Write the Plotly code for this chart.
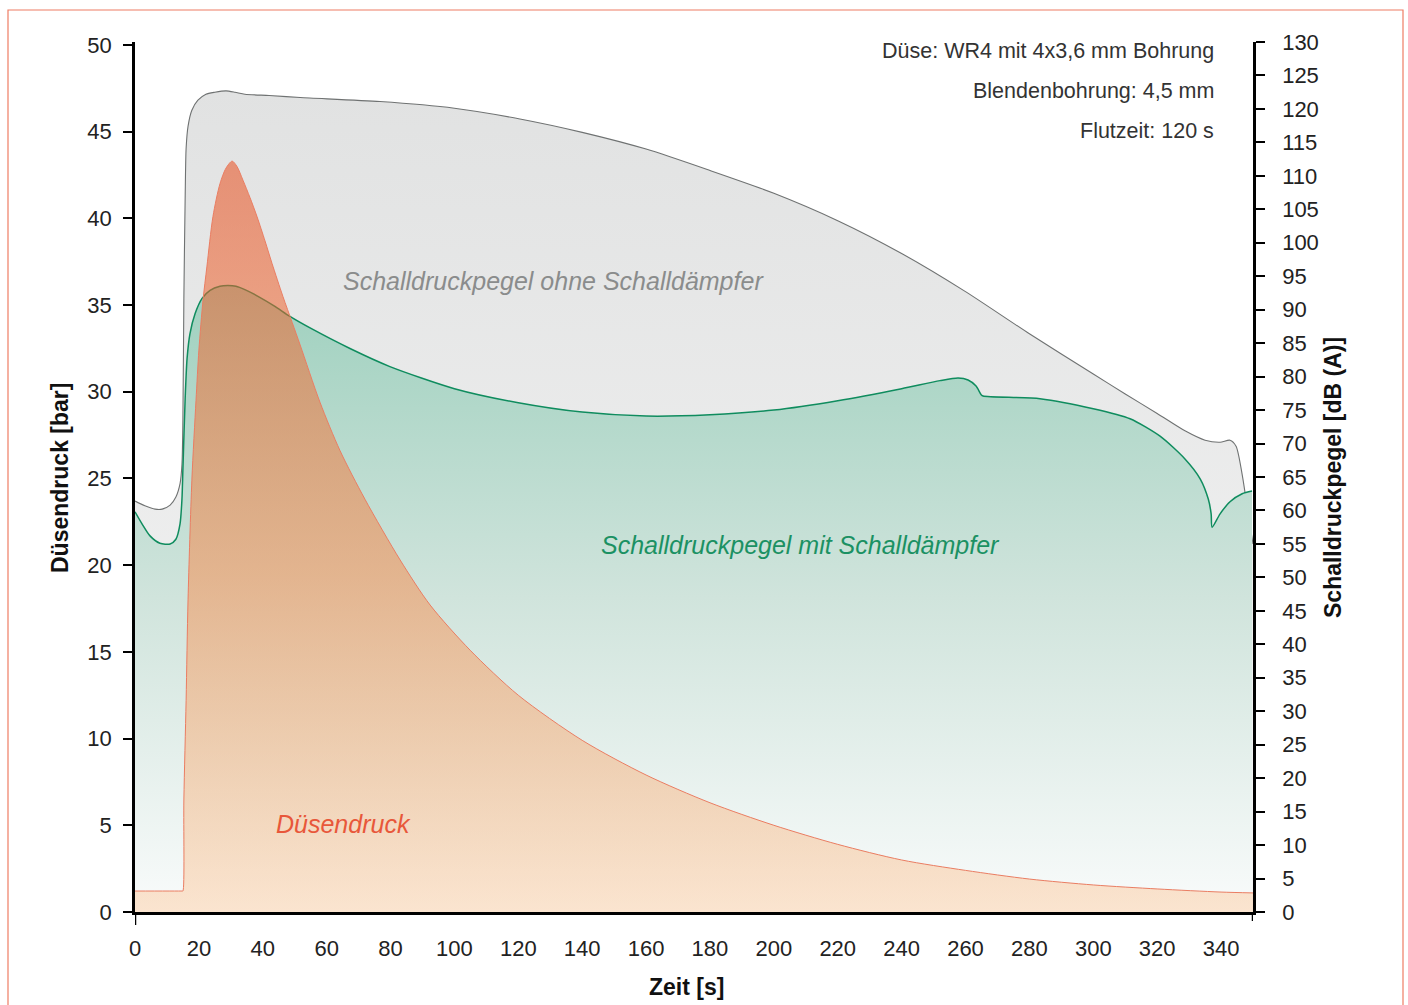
import plotly.graph_objects as go

# ---------------- data ----------------
# Schalldruckpegel ohne Schalldämpfer (dB(A))
t_ohne = [0, 3.1, 6.3, 8.5, 11, 12.8, 14.1, 14.7, 15.0, 15.3, 15.7, 16.0, 16.6, 17.8, 19.7, 22.2, 25, 28.5,
          31.3, 34.4, 42, 51.7, 76.7, 100, 120.5, 140, 160, 180, 200, 220, 240, 260, 280, 300, 310, 320,
          328.7, 335, 339.7, 342.8, 344.7, 346.6, 348.5, 350]
db_ohne = [61.4, 60.7, 60.2, 60.2, 60.8, 62.0, 64.0, 66.9, 73.7, 91.7, 106.6, 114.1, 117.4, 119.8, 121.3,
           122.2, 122.5, 122.7, 122.5, 122.2, 122.0, 121.7, 121.1, 120.1, 118.5, 116.5, 114.0, 110.8, 107.4,
           103.3, 98.4, 92.7, 86.4, 80.4, 77.4, 74.5, 71.9, 70.5, 70.2, 70.5, 69.6, 65.4, 59.5, 55.0]

# Schalldruckpegel mit Schalldämpfer (dB(A))
t_mit = [0, 2.2, 4.7, 7.8, 11.0, 12.8, 14.1, 14.7, 15.0, 15.7, 16.3, 17.2, 18.8, 21.0, 23.5, 26.6, 29.1,
         31.6, 34.4, 38.5, 43.8, 48.5, 55.1, 67.3, 79.8, 100, 120, 140, 160, 180, 200, 220, 240, 252,
         257.7, 260.8, 263.3, 264.9, 265.5, 283.3, 300, 311.5, 320.9, 328.7, 333.5, 336, 336.9, 337.2,
         339.7, 342.8, 346.6, 349.7]
db_mit = [59.8, 58.0, 56.2, 55.1, 55.0, 55.7, 58.0, 61.7, 66.2, 76.7, 82.7, 86.4, 89.4, 91.7, 92.9, 93.5,
          93.6, 93.5, 93.0, 92.0, 90.5, 89.0, 87.2, 84.2, 81.5, 78.2, 76.1, 74.7, 74.1, 74.3, 75.0, 76.4,
          78.2, 79.4, 79.8, 79.5, 78.6, 77.3, 77.1, 76.7, 75.2, 73.7, 71.1, 67.7, 64.7, 61.7, 59.5, 57.5,
          59.5, 61.3, 62.5, 62.9]

# Düsendruck (bar)
t_druck = [0, 14.8, 15.0, 15.3, 16.0, 16.6, 17.8, 19.1, 20.0, 21.3, 22.5, 24.4, 26.6, 28.5, 30.4, 31.9,
           33.8, 36.0, 38.2, 40.7, 42.9, 46.3, 49.2, 51.7, 57.9, 64.2, 72.0, 83.0, 92.4, 104.9, 120, 140,
           160, 180, 200, 220, 240, 260, 280, 300, 320, 340, 350]
p_druck = [1.21, 1.21, 1.21, 6.46, 12.2, 18.0, 24.9, 29.5, 32.4, 35.3, 37.2, 40.1, 42.0, 42.9, 43.3, 43.0,
           42.2, 41.2, 40.1, 38.7, 37.4, 35.5, 34.0, 32.7, 29.4, 26.6, 23.8, 20.3, 17.7, 15.1, 12.5, 9.9,
           7.9, 6.3, 5.0, 3.9, 3.0, 2.4, 1.9, 1.56, 1.33, 1.15, 1.1]

x_ticks = list(range(0, 341, 20))
left_ticks = list(range(0, 51, 5))
right_ticks = list(range(0, 131, 5))

FONT = "Liberation Sans, Arial, sans-serif"
SMOOTH = 0.7

fig = go.Figure()

# gray: ohne Schalldämpfer (main y axis, dB, drawn on right side)
fig.add_trace(go.Scatter(
    x=t_ohne, y=db_ohne, mode="lines", yaxis="y",
    line=dict(color="#6f7272", width=1.1, shape="spline", smoothing=SMOOTH),
    fill="tozeroy",
    fillgradient=dict(type="vertical", start=0, stop=123,
                      colorscale=[[0, "rgb(246,246,246)"], [1, "rgb(225,226,226)"]]),
    showlegend=False, hoverinfo="skip"))

# green: mit Schalldämpfer
fig.add_trace(go.Scatter(
    x=t_mit, y=db_mit, mode="lines", yaxis="y",
    line=dict(color="#0f8c5e", width=1.5, shape="spline", smoothing=SMOOTH),
    fill="tozeroy",
    fillgradient=dict(type="vertical", start=0, stop=94,
                      colorscale=[[0, "rgb(249,251,251)"], [0.5, "rgb(208,228,220)"],
                                  [1, "rgb(158,208,190)"]]),
    showlegend=False, hoverinfo="skip"))

# orange: Düsendruck (overlaying axis -> drawn on top, left side)
fig.add_trace(go.Scatter(
    x=t_druck, y=p_druck, mode="lines", yaxis="y2",
    line=dict(color="#ea7d62", width=1, shape="spline", smoothing=0.8),
    fill="tozeroy",
    fillgradient=dict(type="vertical", start=0, stop=43.3,
                      colorscale=[[0, "rgba(255,180,115,0.32)"], [0.45, "rgba(249,134,68,0.5)"],
                                  [1, "rgba(232,78,30,0.56)"]]),
    showlegend=False, hoverinfo="skip"))

tickfont = dict(family=FONT, size=22, color="#222222")

fig.update_layout(
    width=1408, height=1005,
    margin=dict(l=135, r=155, t=42, b=93),
    paper_bgcolor="white", plot_bgcolor="white",
    xaxis=dict(range=[0, 350], tickvals=x_ticks, showline=True, linecolor="black", linewidth=2.5,
               ticks="", showgrid=False, zeroline=False, tickfont=tickfont, ticklabelstandoff=15),
    yaxis=dict(range=[0, 130], side="right", tickvals=right_ticks, showline=True, linecolor="black",
               linewidth=2.5, ticks="outside", ticklen=9, tickwidth=2, tickcolor="black",
               showgrid=False, zeroline=False, tickfont=tickfont, ticklabelstandoff=13),
    yaxis2=dict(range=[0, 50.17], side="left", overlaying="y", tickvals=left_ticks, showline=True,
                linecolor="black", linewidth=2.5, ticks="outside", ticklen=9, tickwidth=2,
                tickcolor="black", showgrid=False, zeroline=False, tickfont=tickfont,
                ticklabelstandoff=7),
)

W, H = 1118.0, 870.0


def px(xp):
    return (xp - 135) / W


def py(yp):
    return (912 - yp) / H


ann = []
title_font = dict(family=FONT, size=23, color="#111111")
ann.append(dict(text="<b>Düsendruck [bar]</b>", x=px(60), y=py(478), textangle=-90, font=title_font))
ann.append(dict(text="<b>Schalldruckpegel [dB (A)]</b>", x=px(1333), y=py(478), textangle=-90,
                font=title_font))
ann.append(dict(text="<b>Zeit [s]</b>", x=px(686), y=py(987), font=title_font))

info_font = dict(family=FONT, size=21.5, color="#333333")
for txt, yy in [("Düse: WR4 mit 4x3,6 mm Bohrung", 51), ("Blendenbohrung: 4,5 mm", 91),
                ("Flutzeit: 120 s", 131)]:
    ann.append(dict(text=txt, x=px(1216), y=py(yy), xanchor="right", font=info_font))

ann.append(dict(text="<i>Schalldruckpegel ohne Schalldämpfer</i>", x=px(553), y=py(281),
                font=dict(family=FONT, size=25, color="#8a8c8c")))
ann.append(dict(text="<i>Schalldruckpegel mit Schalldämpfer</i>", x=px(800), y=py(545),
                font=dict(family=FONT, size=25, color="#1b9163")))
ann.append(dict(text="<i>Düsendruck</i>", x=px(343), y=py(824),
                font=dict(family=FONT, size=25, color="#e8573a")))

for a in ann:
    a.update(xref="paper", yref="paper", showarrow=False)
    a.setdefault("xanchor", "center")
    a.setdefault("yanchor", "middle")
fig.update_layout(annotations=ann)

shapes = [
    # thin frame around the figure
    dict(type="rect", xref="paper", yref="paper", x0=px(8), x1=px(1403), y0=py(1012), y1=py(10),
         line=dict(color="rgb(238,125,100)", width=1.2), fillcolor="rgba(0,0,0,0)", layer="below"),
    # axis extensions below the x axis
    dict(type="line", xref="x", yref="paper", x0=0, x1=0, y0=0, y1=-13 / H,
         line=dict(color="black", width=2.5)),
    dict(type="line", xref="x", yref="paper", x0=350, x1=350, y0=0, y1=-9 / H,
         line=dict(color="black", width=2.5)),
]
fig.update_layout(shapes=shapes)

fig.write_html("out.html", config={"displayModeBar": False},
               post_script="document.body.style.margin='0';")
